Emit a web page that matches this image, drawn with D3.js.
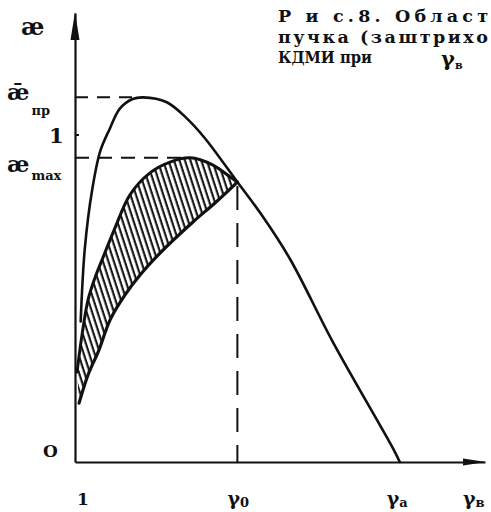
<!DOCTYPE html>
<html>
<head>
<meta charset="utf-8">
<script src="https://cdn.jsdelivr.net/npm/d3@7"></script>
<style>
  html, body { margin: 0; padding: 0; background: #fff; }
  svg { display: block; }
  text { font-family: "DejaVu Serif", "Liberation Serif", serif; font-weight: bold; fill: #111; }
</style>
</head>
<body>
<svg id="chart" width="491" height="512"></svg>
<script>
// Limiting curve ǣ(γ): rises from γ≈1, peaks at ǣпр and falls to zero at γа
const limitGamma = [1.02, 1.07, 1.16, 1.26, 1.38, 1.50, 1.66, 1.79, 2.08, 2.33, 2.55, 2.95, 3.25, 3.60, 4.13, 4.87, 4.95];
const limitKappa = [0.43, 0.65, 0.83, 0.95, 1.02, 1.08, 1.11, 1.115, 1.10, 1.05, 0.99, 0.856, 0.755, 0.62, 0.365, 0.04, 0.0];

// Upper edge of the hatched band (peaks at æmax)
const bandUpperGamma = [0.975, 1.036, 1.11, 1.196, 1.283, 1.443, 1.627, 1.874, 2.12, 2.366, 2.65, 2.859, 2.95];
const bandUpperKappa = [0.275, 0.388, 0.495, 0.563, 0.618, 0.716, 0.817, 0.884, 0.917, 0.930, 0.908, 0.872, 0.856];

// Lower edge of the hatched band
const bandLowerGamma = [1.0, 1.11, 1.246, 1.381, 1.566, 1.751, 1.997, 2.403, 2.674, 2.95];
const bandLowerKappa = [0.18, 0.266, 0.343, 0.434, 0.511, 0.572, 0.639, 0.734, 0.792, 0.856];

// Axis marks
const xTickValues = [1, 2.95, 4.95, 5.9];
const xTickMain = ["1", "γ", "γ", "γ"];
const xTickSub = ["", "0", "а", "в"];
const yTickValues = [0, 0.930, 1, 1.115];
const yTickMain = ["O", "æ", "1", "ǣ"];
const yTickSub = ["", "max", "", "пр"];

// Caption text
const captionLines = ["Р и с.8. Област", "пучка (заштрихо", "КДМИ при"];
const captionSymbol = ["γ", "в"];

const W = 491, H = 512;
const ink = "#111";
const svg = d3.select("#chart");
svg.append("rect").attr("width", W).attr("height", H).attr("fill", "#fff");

const x = d3.scaleLinear().domain([0.95, 6.0]).range([75, 485]);
const y = d3.scaleLinear().domain([0, 1.373]).range([462, 13]);

// Hatching for the band
const defs = svg.append("defs");
const pat = defs.append("pattern")
  .attr("id", "hatch")
  .attr("patternUnits", "userSpaceOnUse")
  .attr("width", 5.2).attr("height", 10)
  .attr("patternTransform", "rotate(-18)");
pat.append("line")
  .attr("x1", 1.5).attr("y1", -2).attr("x2", 1.5).attr("y2", 12)
  .attr("stroke", ink).attr("stroke-width", 2.1);

const line = d3.line().curve(d3.curveCatmullRom.alpha(0.5));
const pts = (gs, ks) => gs.map((g, i) => [x(g), y(ks[i])]);

const upperPts = pts(bandUpperGamma, bandUpperKappa);
const lowerPts = pts(bandLowerGamma, bandLowerKappa);
const limitPts = pts(limitGamma, limitKappa);

// Band fill: upper edge forward, lower edge back
const bandPath = line(upperPts) + "L" + line(lowerPts.slice().reverse()).slice(1) + "Z";
svg.append("path").attr("d", bandPath).attr("fill", "url(#hatch)").attr("stroke", "none");

svg.append("path").attr("d", line(upperPts)).attr("fill", "none")
  .attr("stroke", ink).attr("stroke-width", 3).attr("stroke-linecap", "round");
svg.append("path").attr("d", line(lowerPts)).attr("fill", "none")
  .attr("stroke", ink).attr("stroke-width", 3.2).attr("stroke-linecap", "round");

svg.append("path").attr("d", line(limitPts)).attr("fill", "none")
  .attr("stroke", ink).attr("stroke-width", 2.6).attr("stroke-linecap", "round");

// Dashed guides at the two maxima and at γ0
const iPr = d3.maxIndex(limitKappa);
const iMax = d3.maxIndex(bandUpperKappa);
const gamma0 = xTickValues[1];
const kappa0 = bandUpperKappa[bandUpperKappa.length - 1];
const dash = svg.append("g").attr("stroke", ink).attr("stroke-width", 2).attr("fill", "none");
dash.append("line")
  .attr("x1", x(0.95)).attr("y1", y(limitKappa[iPr]))
  .attr("x2", x(limitGamma[iPr])).attr("y2", y(limitKappa[iPr]))
  .attr("stroke-dasharray", "13,9");
dash.append("line")
  .attr("x1", x(0.95)).attr("y1", y(bandUpperKappa[iMax]))
  .attr("x2", x(bandUpperGamma[iMax])).attr("y2", y(bandUpperKappa[iMax]))
  .attr("stroke-dasharray", "14,9");
dash.append("line")
  .attr("x1", x(gamma0)).attr("y1", y(kappa0) + 4)
  .attr("x2", x(gamma0)).attr("y2", y(0))
  .attr("stroke-dasharray", "24,13");

// Axes
const xAxis = svg.append("g").attr("transform", `translate(0,${y(0)})`)
  .call(d3.axisBottom(x).tickValues([]).tickSizeOuter(0));
xAxis.select(".domain").attr("stroke", ink).attr("stroke-width", 2.2);
const yAxis = svg.append("g").attr("transform", `translate(${x(0.95)},0)`)
  .call(d3.axisLeft(y).tickValues([]).tickSizeOuter(0));
yAxis.select(".domain").attr("stroke", ink).attr("stroke-width", 2.2);

// Arrow heads
const x0 = x(0.95), yTop = y.range()[1], xEnd = x.range()[1], y0 = y(0);
svg.append("path")
  .attr("d", `M${x0},${yTop - 1} L${x0 + 4.5},${yTop + 27} L${x0 - 4.5},${yTop + 27} Z`)
  .attr("fill", ink);
svg.append("path")
  .attr("d", `M${xEnd + 1},${y0} L${xEnd - 22},${y0 + 3.5} L${xEnd - 22},${y0 - 3.5} Z`)
  .attr("fill", ink);

// Small mark at æ = 1
svg.append("line").attr("x1", x0).attr("x2", x0 + 4).attr("y1", y(1)).attr("y2", y(1))
  .attr("stroke", ink).attr("stroke-width", 2);

// Vertical axis name
svg.append("text").attr("x", 21).attr("y", 35).attr("font-size", 24).text("æ");

// Vertical tick labels
const yLab = svg.append("g");
const yDy = [-5, 14, 8, 2.5];
const yX = [43, 7, 49, 7];
const yMainSize = [17, 23, 21, 23];
yTickValues.forEach((v, i) => {
  const t = yLab.append("text").attr("x", yX[i]).attr("y", y(v) + yDy[i]).attr("font-size", yMainSize[i]);
  t.append("tspan").text(yTickMain[i]);
  if (yTickSub[i]) {
    t.append("tspan").attr("font-size", 13).attr("dx", 2).attr("dy", i === 3 ? 15 : 8).text(yTickSub[i]);
  }
});

// Horizontal tick labels
const xLab = svg.append("g");
const xShift = [-2, -10, -13, -14];
xTickValues.forEach((v, i) => {
  const t = xLab.append("text").attr("x", x(v) + xShift[i]).attr("y", 505).attr("font-size", i === 0 ? 17 : 19);
  t.append("tspan").text(xTickMain[i]);
  if (xTickSub[i]) t.append("tspan").attr("font-size", 13).attr("dy", 2).text(xTickSub[i]);
});

// Caption, typewriter-spaced lines
const cap = svg.append("g").attr("font-size", 17.5);
cap.append("text").attr("x", 278).attr("y", 22)
  .attr("textLength", 210).attr("lengthAdjust", "spacing").text(captionLines[0]);
cap.append("text").attr("x", 278).attr("y", 43)
  .attr("textLength", 210).attr("lengthAdjust", "spacing").text(captionLines[1]);
cap.append("text").attr("x", 278).attr("y", 63)
  .attr("textLength", 94).attr("lengthAdjust", "spacingAndGlyphs").text(captionLines[2]);
cap.append("text").attr("x", 441).attr("y", 66).attr("font-size", 21).text(captionSymbol[0]);
cap.append("text").attr("x", 455).attr("y", 69).attr("font-size", 11).text(captionSymbol[1]);
</script>
</body>
</html>
